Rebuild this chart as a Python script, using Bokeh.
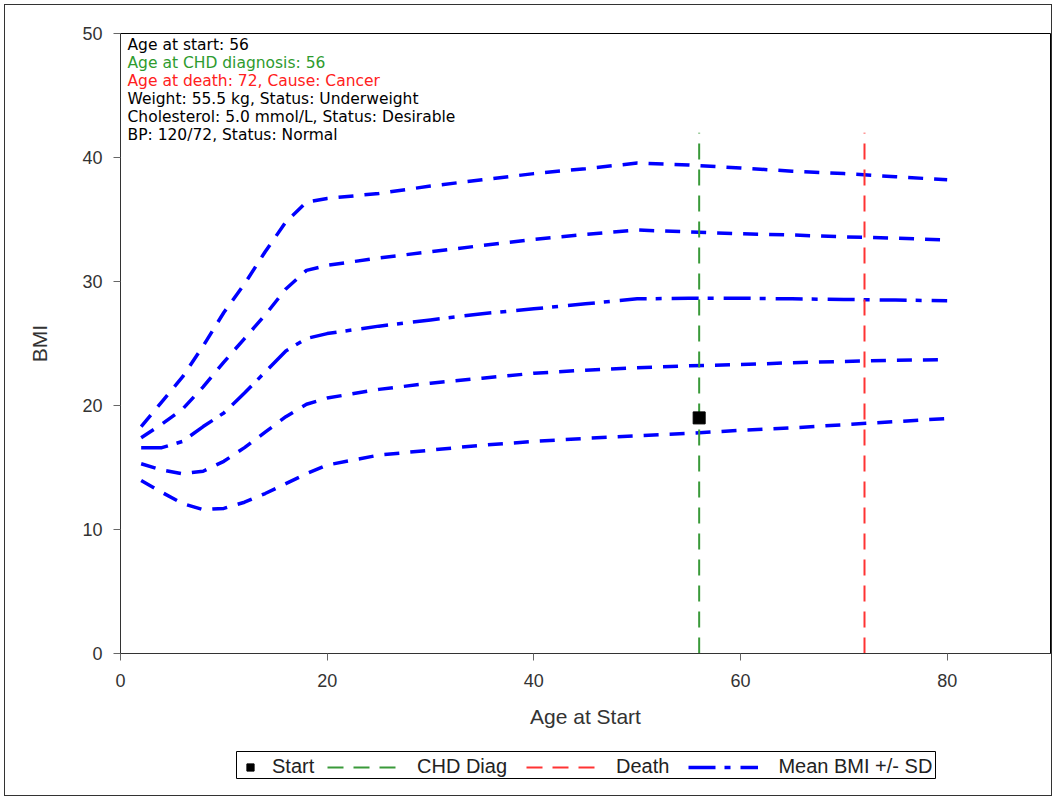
from bokeh.plotting import figure
from bokeh.layouts import column
from bokeh.models import Range1d, Legend, LegendItem, Label, FixedTicker
from bokeh.embed import file_html
from bokeh.resources import INLINE

# ---- data ----
ages = [2, 4, 6, 8, 10, 12, 14, 16, 18, 20, 25, 30, 35, 40, 45, 50, 55, 60, 65, 70, 75, 80]
bmi_plus2sd = [18.3, 20.3, 22.3, 24.8, 27.5, 29.8, 32.4, 34.8, 36.4, 36.7, 37.1, 37.7, 38.2, 38.7,
               39.1, 39.55, 39.4, 39.15, 38.9, 38.7, 38.45, 38.2]
bmi_plus1sd = [17.4, 18.5, 19.7, 21.5, 23.5, 25.4, 27.3, 29.4, 30.9, 31.3, 31.9, 32.4, 32.9, 33.4,
               33.8, 34.15, 34.0, 33.85, 33.75, 33.6, 33.5, 33.35]
bmi_mean = [16.6, 16.6, 17.1, 18.3, 19.4, 21.0, 22.7, 24.4, 25.4, 25.8, 26.4, 26.9, 27.4, 27.8,
            28.2, 28.6, 28.65, 28.65, 28.6, 28.55, 28.5, 28.45]
bmi_minus1sd = [15.3, 14.8, 14.5, 14.7, 15.5, 16.6, 17.85, 19.1, 20.1, 20.6, 21.3, 21.8, 22.2, 22.6,
                22.85, 23.05, 23.2, 23.3, 23.45, 23.55, 23.65, 23.7]
bmi_minus2sd = [13.95, 13.0, 12.1, 11.6, 11.7, 12.2, 12.9, 13.7, 14.5, 15.2, 16.0, 16.4, 16.8, 17.1,
                17.35, 17.55, 17.75, 18.0, 18.2, 18.45, 18.7, 18.95]

start_age = [56]
start_bmi = [19.0]
chd_age = 56
death_age = 72
vline_bmi = [0, 42]

x_ticks = [0, 20, 40, 60, 80]
y_ticks = [0, 10, 20, 30, 40, 50]

info_lines = [
    "Age at start: 56",
    "Age at CHD diagnosis: 56",
    "Age at death: 72, Cause: Cancer",
    "Weight: 55.5 kg, Status: Underweight",
    "Cholesterol: 5.0 mmol/L, Status: Desirable",
    "BP: 120/72, Status: Normal",
]
info_colors = ["black", "#2E9B2E", "#FF2020", "black", "black", "black"]
legend_labels = ["Start", "CHD Diag", "Death", "Mean BMI +/- SD"]

BLUE = "#0000FF"
GREEN = "#3A9A3A"
RED = "#FF3333"
DASH = "15 11"
DASHDOT = "27 9 6 10"
VDASH = "16 10"


def draw_series(fig, marker_size=12):
    """Draw the chart's marks on a figure; returns the renderers used in the legend."""
    rs = []
    for series, ld in ((bmi_plus2sd, DASH), (bmi_plus1sd, DASH), (bmi_mean, DASHDOT),
                       (bmi_minus1sd, DASH), (bmi_minus2sd, DASH)):
        rs.append(fig.line(ages, series, line_color=BLUE, line_width=3.5, line_dash=ld))
    r_chd = fig.line([chd_age, chd_age], vline_bmi, line_color=GREEN, line_width=2, line_dash=VDASH)
    r_death = fig.line([death_age, death_age], vline_bmi, line_color=RED, line_width=2, line_dash=VDASH)
    r_start = fig.scatter(start_age, start_bmi, marker="square", size=marker_size,
                          fill_color="black", line_color="black")
    return r_start, r_chd, r_death, rs[2]


# ---------------- main plot ----------------
p = figure(width=1046, height=730, x_range=Range1d(0, 90), y_range=Range1d(0, 50),
           output_backend="svg", toolbar_location=None,
           min_border_left=115, min_border_right=1, min_border_top=28, min_border_bottom=82)
p.frame_align = False
p.grid.visible = False
p.outline_line_color = "black"
p.outline_line_width = 1
p.background_fill_color = "white"
p.border_fill_color = "white"

for ax, ticks in ((p.xaxis, x_ticks), (p.yaxis, y_ticks)):
    ax.ticker = FixedTicker(ticks=ticks)
    ax.minor_tick_line_color = None
    ax.major_tick_in = 0
    ax.major_tick_out = 7
    ax.major_tick_line_color = "#666666"
    ax.axis_line_color = "#333333"
    ax.major_label_text_font = "Liberation Sans"
    ax.major_label_text_font_size = "18px"
    ax.major_label_text_color = "#333333"
    ax.axis_label_text_font = "Liberation Sans"
    ax.axis_label_text_font_size = "21px"
    ax.axis_label_text_font_style = "normal"
    ax.axis_label_text_color = "#333333"

p.xaxis.axis_label = "Age at Start"
p.yaxis.axis_label = "BMI"
p.xaxis.major_label_standoff = 13
p.yaxis.major_label_standoff = 11
p.xaxis.axis_label_standoff = 15
p.yaxis.axis_label_standoff = 28

draw_series(p)

for i, (txt, col) in enumerate(zip(info_lines, info_colors)):
    p.add_layout(Label(x=0, y=50, x_offset=7, y_offset=-(11 + 18 * i), text=txt,
                       text_color=col, text_font="DejaVu Sans", text_font_size="15.5px",
                       text_baseline="middle", text_align="left"))

# ---------------- legend strip (same series, drawn out of its view) ----------------
lg = figure(width=1046, height=60, output_backend="svg", toolbar_location=None,
            x_range=Range1d(-2, -1), y_range=Range1d(-2, -1),
            min_border_left=231, min_border_right=116, min_border_top=16, min_border_bottom=17)
lg.frame_align = False
lg.axis.visible = False
lg.grid.visible = False
lg.outline_line_color = "black"
lg.outline_line_width = 1
lg.background_fill_color = "white"
lg.border_fill_color = "white"

e_start, e_chd, e_death, e_mean = draw_series(lg, marker_size=14)


def make_legend(items, loc, gw, standoff, spacing):
    L = Legend(items=items, orientation="horizontal", location=loc)
    L.border_line_color = None
    L.background_fill_alpha = 0
    L.label_text_font = "Liberation Sans"
    L.label_text_font_size = "20px"
    L.label_text_color = "#222222"
    L.glyph_width = gw
    L.glyph_height = 18
    L.label_standoff = standoff
    L.spacing = spacing
    L.padding = 2
    L.margin = 0
    return L


lg.add_layout(make_legend([LegendItem(label=legend_labels[0], renderers=[e_start])],
                          (4, 0), 20, 12, 0), "center")
lg.add_layout(make_legend([LegendItem(label=legend_labels[1], renderers=[e_chd]),
                           LegendItem(label=legend_labels[2], renderers=[e_death]),
                           LegendItem(label=legend_labels[3], renderers=[e_mean])],
                          (91, 0), 70, 20, 19), "center")

layout = column(p, lg, spacing=0)
layout.styles = {"border": "1px solid #333333", "margin-left": "4px", "margin-top": "4px"}

open("out.html", "w").write(file_html(layout, INLINE))
